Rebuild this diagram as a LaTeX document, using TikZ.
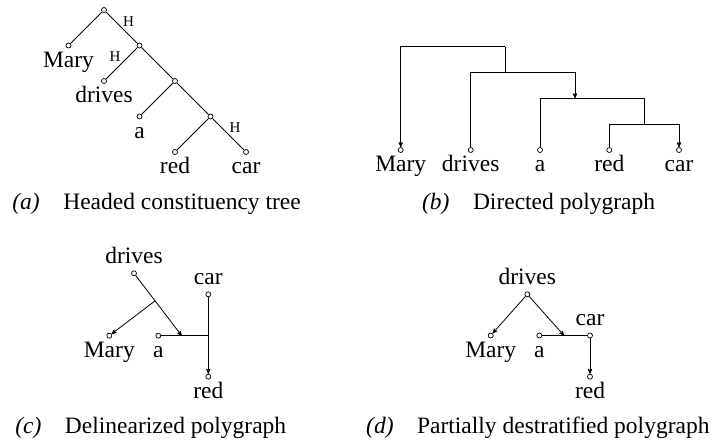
\documentclass[tikz,border=0pt]{standalone}
\usepackage{fontspec}
\setmainfont{Liberation Serif}
\usetikzlibrary{arrows}
\tikzset{
	dot/.style = {circle, draw=black, fill=white, inner sep=0pt,
		minimum size=5pt, line width=0.7pt},% small open circle
	word/.style = {inner sep=1.5pt, text height=17pt, text depth=5pt,
		font=\fontsize{23.5}{28}\selectfont},% word of the sentence
	head/.style = {inner sep=1pt, font=\fontsize{15}{18}\selectfont},% H mark
	caption/.style = {anchor=base west, inner sep=0pt,
		font=\fontsize{23.5}{28}\selectfont}
}

\begin{document}
\begin{tikzpicture}[x=1pt, y=-1pt, line width=0.8pt, >=stealth',
		level/.style={sibling distance=71pt, level distance=35.5pt}]
	\useasboundingbox (0,0) rectangle (712,440);

	% (a) headed tree
	\node [dot] (root) at (104,10) {}
	child{node[dot, label={[word]below:Mary}] (amary) {}}
	child{node[dot] (an2) {}
		child{node[dot, label={[word]below:drives}] (adrives) {}
			edge from parent node[head, above left] {H}}
		child{node[dot] (an3) {}
			child{node[dot, label={[word]below:a}] (aa) {}}
			child{node[dot] (an4) {}
				child{node[dot, label={[word]below:red}] (ared) {}}
				child{node[dot, label={[word]below:car}] (acar) {}
					edge from parent node[head, above right] {H}}
			}
		}
		edge from parent node[head, above right] {H}
	};
	\node [caption] (capa) at (12,209) {\textit{(a)}\quad Headed constituency tree};

	% (b) directed polygraph
	\node [dot, label={[word]below:Mary}] (bmary) at (400.7,150) {};
	\node [dot, label={[word]below:drives}] (bdrives) at (470.7,150) {};
	\node [dot, label={[word]below:a}] (ba) at (540,150) {};
	\node [dot, label={[word]below:red}] (bred) at (609.3,150) {};
	\node [dot, label={[word]below:car}] (bcar) at (679,150) {};
	\coordinate (bt1) at (505,46.7);
	\coordinate (bh2) at (505,72.3);
	\coordinate (bh3) at (575,98.3);
	\coordinate (bh4) at (644,124);
	\draw [->] (bt1) -| (bmary);
	\draw (bt1) -- (bh2);
	\draw (bh2) -| (bdrives);
	\draw [->] (bh2) -| (bh3);
	\draw (bh3) -| (ba);
	\draw (bh3) -| (bh4);
	\draw (bh4) -| (bred);
	\draw [->] (bh4) -| (bcar);
	\node [caption] (capb) at (421.7,209) {\textit{(b)}\quad Directed polygraph};

	% (c) delinearized polygraph
	\node [dot, label={[word]above:drives}] (cdrives) at (134,273.3) {};
	\node [dot, label={[word]above:car}] (ccar) at (208.3,294.3) {};
	\node [dot, label={[word]below:Mary}] (cmary) at (109.3,335.7) {};
	\node [dot, label={[word]below:a}] (ca) at (158.3,335.7) {};
	\node [dot, label={[word]below:red}] (cred) at (208.3,376.7) {};
	\coordinate (cx) at (208.3,335.7);
	\coordinate (cj) at (181.7,335.7);
	\draw (ca) -- (cx);
	\draw [->] (ccar) -- (cred);
	\draw [->] (cdrives) -- coordinate[pos=.42] (cb) (cj);
	\draw [->] (cb) -- (cmary);
	\node [caption] (capc) at (15,433) {\textit{(c)}\quad Delinearized polygraph};

	% (d) partially destratified polygraph
	\node [dot, label={[word]above:drives}] (ddrives) at (527.3,294.3) {};
	\node [dot, label={[word]below:Mary}] (dmary) at (490.7,335.5) {};
	\node [dot, label={[word]below:a}] (da) at (539.3,335.5) {};
	\node [dot, label={[word]above:car}] (dcar) at (590,335.5) {};
	\node [dot, label={[word]below:red}] (dred) at (590,376.7) {};
	\coordinate (dj) at (564,335.5);
	\draw (da) -- (dcar);
	\draw [->] (ddrives) -- (dmary);
	\draw [->] (ddrives) -- (dj);
	\draw [->] (dcar) -- (dred);
	\node [caption] (capd) at (365.8,433) {\textit{(d)}\quad Partially destratified polygraph};
\end{tikzpicture}
\end{document}
